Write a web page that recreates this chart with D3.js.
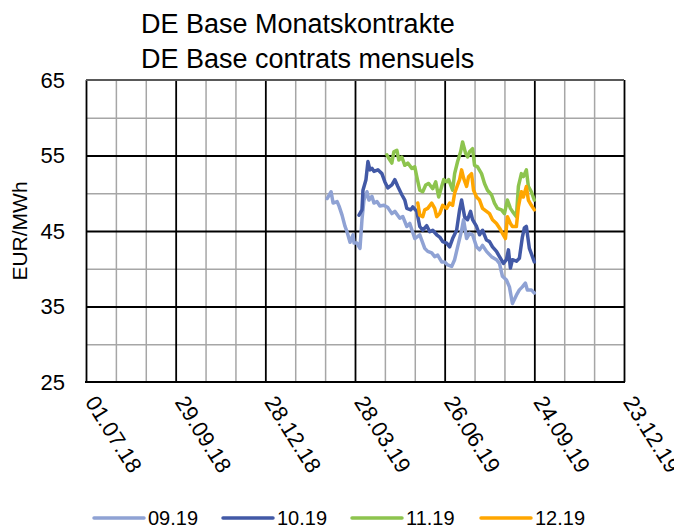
<!DOCTYPE html>
<html>
<head>
<meta charset="utf-8">
<script src="https://cdn.jsdelivr.net/npm/d3@7"></script>
<style>
  body { margin: 0; background: #fff; }
  text { font-family: "Liberation Sans", Arial, sans-serif; fill: #000; }
</style>
</head>
<body>
<div id="chart"></div>
<script>
var titleLines = ["DE Base Monatskontrakte", "DE Base contrats mensuels"];
var yLabel = "EUR/MWh";
var seriesNames = ["09.19", "10.19", "11.19", "12.19"];
var seriesColors = ["#8fa2d4", "#4259a6", "#8dc44e", "#ffa600"];
var yTicks = [25, 35, 45, 55, 65];
var xTicks = ["2018-07-01", "2018-09-29", "2018-12-28", "2019-03-28", "2019-06-26", "2019-09-24", "2019-12-23"];

var s0919 = [
  ["2019-02-28", 49.3], ["2019-03-04", 50.2], ["2019-03-06", 48.7], ["2019-03-10", 48.9],
  ["2019-03-12", 48.3], ["2019-03-15", 47.1], ["2019-03-18", 45.6], ["2019-03-20", 44.9],
  ["2019-03-23", 43.5], ["2019-03-26", 44.5], ["2019-03-27", 43.4], ["2019-03-30", 43.4],
  ["2019-04-02", 42.7], ["2019-04-04", 46.5], ["2019-04-06", 49.1], ["2019-04-09", 50.2],
  ["2019-04-11", 49.1], ["2019-04-14", 49.6], ["2019-04-16", 48.7], ["2019-04-19", 48.9],
  ["2019-04-22", 48.3], ["2019-04-26", 48.4], ["2019-04-30", 48.1], ["2019-05-04", 47.3],
  ["2019-05-07", 47.6], ["2019-05-12", 46.7], ["2019-05-15", 46.9], ["2019-05-19", 45.6],
  ["2019-05-22", 46.0], ["2019-05-27", 44.0], ["2019-06-01", 44.5], ["2019-06-06", 42.7],
  ["2019-06-09", 42.3], ["2019-06-13", 42.1], ["2019-06-16", 41.6], ["2019-06-19", 41.8],
  ["2019-06-23", 40.9], ["2019-06-26", 40.9], ["2019-06-29", 40.5], ["2019-07-03", 40.3],
  ["2019-07-06", 41.2], ["2019-07-09", 42.9], ["2019-07-13", 45.1], ["2019-07-15", 46.5],
  ["2019-07-18", 44.0], ["2019-07-21", 44.7], ["2019-07-24", 44.5], ["2019-07-28", 42.9],
  ["2019-07-31", 42.5], ["2019-08-03", 43.1], ["2019-08-07", 42.3], ["2019-08-12", 41.6],
  ["2019-08-17", 41.2], ["2019-08-20", 40.7], ["2019-08-23", 39.0], ["2019-08-27", 38.5],
  ["2019-08-30", 37.6], ["2019-09-02", 35.4], ["2019-09-06", 36.5], ["2019-09-09", 37.2],
  ["2019-09-12", 37.6], ["2019-09-15", 38.1], ["2019-09-17", 37.2], ["2019-09-21", 37.2],
  ["2019-09-24", 36.8]
];

var s1019 = [
  ["2019-04-01", 47.1], ["2019-04-04", 47.8], ["2019-04-05", 50.4], ["2019-04-08", 51.8],
  ["2019-04-10", 54.2], ["2019-04-12", 53.1], ["2019-04-14", 53.3], ["2019-04-16", 52.9],
  ["2019-04-20", 53.1], ["2019-04-24", 52.6], ["2019-04-27", 51.5], ["2019-04-30", 50.7],
  ["2019-05-04", 51.1], ["2019-05-07", 51.8], ["2019-05-10", 50.9], ["2019-05-14", 49.8],
  ["2019-05-17", 49.1], ["2019-05-19", 48.0], ["2019-05-23", 47.8], ["2019-05-25", 48.2],
  ["2019-05-29", 47.6], ["2019-06-01", 45.6], ["2019-06-04", 45.1], ["2019-06-08", 45.7],
  ["2019-06-11", 44.9], ["2019-06-14", 45.1], ["2019-06-18", 44.5], ["2019-06-21", 44.2],
  ["2019-06-24", 43.6], ["2019-06-28", 43.4], ["2019-07-01", 42.9], ["2019-07-04", 44.0],
  ["2019-07-08", 45.1], ["2019-07-11", 47.8], ["2019-07-13", 49.1], ["2019-07-16", 46.9],
  ["2019-07-19", 46.5], ["2019-07-22", 47.6], ["2019-07-24", 46.5], ["2019-07-28", 45.6],
  ["2019-07-31", 44.5], ["2019-08-03", 45.1], ["2019-08-07", 43.8], ["2019-08-10", 43.6],
  ["2019-08-13", 42.9], ["2019-08-17", 42.3], ["2019-08-20", 41.6], ["2019-08-24", 40.7],
  ["2019-08-27", 41.2], ["2019-08-29", 42.5], ["2019-08-31", 40.1], ["2019-09-02", 41.2],
  ["2019-09-06", 41.0], ["2019-09-09", 41.4], ["2019-09-12", 44.2], ["2019-09-14", 45.4],
  ["2019-09-16", 45.6], ["2019-09-19", 42.7], ["2019-09-21", 42.0], ["2019-09-24", 40.9]
];

var s1119 = [
  ["2019-04-29", 55.1], ["2019-05-01", 54.6], ["2019-05-04", 54.0], ["2019-05-06", 55.5],
  ["2019-05-09", 55.7], ["2019-05-11", 54.4], ["2019-05-14", 54.8], ["2019-05-17", 53.7],
  ["2019-05-20", 54.0], ["2019-05-24", 53.3], ["2019-05-27", 53.5], ["2019-05-29", 52.2],
  ["2019-06-01", 50.4], ["2019-06-04", 50.2], ["2019-06-07", 51.1], ["2019-06-10", 51.3],
  ["2019-06-14", 50.6], ["2019-06-17", 51.5], ["2019-06-20", 49.5], ["2019-06-23", 50.9],
  ["2019-06-25", 51.8], ["2019-06-28", 51.5], ["2019-06-30", 51.8], ["2019-07-04", 50.4],
  ["2019-07-06", 52.6], ["2019-07-09", 54.2], ["2019-07-12", 55.5], ["2019-07-14", 56.8],
  ["2019-07-17", 55.3], ["2019-07-19", 54.8], ["2019-07-21", 55.5], ["2019-07-24", 55.9],
  ["2019-07-26", 53.7], ["2019-07-29", 53.5], ["2019-08-02", 52.6], ["2019-08-05", 51.3],
  ["2019-08-08", 50.4], ["2019-08-12", 49.8], ["2019-08-15", 48.7], ["2019-08-18", 48.0],
  ["2019-08-22", 47.8], ["2019-08-25", 47.3], ["2019-08-28", 49.1], ["2019-08-31", 48.0],
  ["2019-09-02", 47.6], ["2019-09-06", 46.9], ["2019-09-08", 50.9], ["2019-09-11", 52.6],
  ["2019-09-13", 52.2], ["2019-09-16", 53.1], ["2019-09-18", 50.9], ["2019-09-21", 50.2],
  ["2019-09-24", 49.1]
];

var s1219 = [
  ["2019-05-30", 48.7], ["2019-06-01", 47.1], ["2019-06-04", 46.9], ["2019-06-06", 47.8],
  ["2019-06-09", 48.0], ["2019-06-13", 48.7], ["2019-06-16", 48.0], ["2019-06-18", 46.9],
  ["2019-06-21", 47.3], ["2019-06-24", 48.4], ["2019-06-28", 48.0], ["2019-07-01", 48.7],
  ["2019-07-04", 48.4], ["2019-07-06", 50.0], ["2019-07-09", 51.1], ["2019-07-11", 51.8],
  ["2019-07-13", 53.1], ["2019-07-15", 52.0], ["2019-07-18", 50.9], ["2019-07-20", 52.2],
  ["2019-07-23", 52.6], ["2019-07-25", 50.4], ["2019-07-28", 49.5], ["2019-07-31", 49.1],
  ["2019-08-03", 48.0], ["2019-08-07", 47.6], ["2019-08-10", 47.3], ["2019-08-13", 46.5],
  ["2019-08-17", 46.0], ["2019-08-20", 45.4], ["2019-08-23", 44.7], ["2019-08-26", 44.0],
  ["2019-08-28", 46.9], ["2019-08-31", 46.0], ["2019-09-02", 45.6], ["2019-09-06", 45.6],
  ["2019-09-08", 48.2], ["2019-09-11", 50.2], ["2019-09-13", 49.5], ["2019-09-16", 50.9],
  ["2019-09-18", 49.1], ["2019-09-21", 48.4], ["2019-09-24", 47.8]
];

var width = 674;
var height = 529;
var plot = { left: 86, right: 624, top: 80, bottom: 382 };

var parseDate = d3.utcParse("%Y-%m-%d");
var fmt = d3.utcFormat("%d.%m.%y");

var series = [s0919, s1019, s1119, s1219].map(function (s, i) {
  return {
    name: seriesNames[i],
    color: seriesColors[i],
    values: s.map(function (d) { return { date: parseDate(d[0]), price: d[1] }; })
  };
});

var tickDates = xTicks.map(parseDate);

/* Scales */
var xScale = d3.scaleUtc()
  .domain([tickDates[0], tickDates[tickDates.length - 1]])
  .range([plot.left, plot.right]);

var yScale = d3.scaleLinear()
  .domain([25, 65])
  .range([plot.bottom, plot.top]);

var svg = d3.select("#chart").append("svg")
  .attr("width", width)
  .attr("height", height);

/* minor grid: every 30 days / every 5 units */
var minorX = d3.range(30, 540, 30)
  .filter(function (d) { return d % 90 !== 0; })
  .map(function (d) { return d3.utcDay.offset(tickDates[0], d); });
var minorY = [30, 40, 50, 60];

svg.append("g")
  .attr("class", "x grid minor")
  .attr("transform", `translate(0, ${plot.bottom})`)
  .call(d3.axisBottom(xScale).tickValues(minorX).tickSize(-(plot.bottom - plot.top)).tickFormat(""))
  .call(g => g.select(".domain").remove())
  .selectAll("line").attr("stroke", "#a6a6a6").attr("stroke-width", 1.5);

svg.append("g")
  .attr("class", "y grid minor")
  .attr("transform", `translate(${plot.left}, 0)`)
  .call(d3.axisLeft(yScale).tickValues(minorY).tickSize(-(plot.right - plot.left)).tickFormat(""))
  .call(g => g.select(".domain").remove())
  .selectAll("line").attr("stroke", "#a6a6a6").attr("stroke-width", 1.5);

/* major grid */
svg.append("g")
  .attr("class", "x grid major")
  .attr("transform", `translate(0, ${plot.bottom})`)
  .call(d3.axisBottom(xScale).tickValues(tickDates).tickSize(-(plot.bottom - plot.top)).tickFormat(""))
  .call(g => g.select(".domain").remove())
  .selectAll("line").attr("stroke", "#000").attr("stroke-width", 1.8);

svg.append("g")
  .attr("class", "y grid major")
  .attr("transform", `translate(${plot.left}, 0)`)
  .call(d3.axisLeft(yScale).tickValues([35, 45, 55]).tickSize(-(plot.right - plot.left)).tickFormat(""))
  .call(g => g.select(".domain").remove())
  .selectAll("line").attr("stroke", "#000").attr("stroke-width", 1.8);

// top line at 65 is grey-ish, bottom axis black
svg.append("line")
  .attr("x1", plot.left).attr("x2", plot.right)
  .attr("y1", yScale(65)).attr("y2", yScale(65))
  .attr("stroke", "#595959").attr("stroke-width", 1.8);
svg.append("line")
  .attr("x1", plot.left - 1).attr("x2", plot.right + 1)
  .attr("y1", yScale(25)).attr("y2", yScale(25))
  .attr("stroke", "#000").attr("stroke-width", 2);

/* lines */
var line = d3.line()
  .x(d => xScale(d.date))
  .y(d => yScale(d.price));

svg.append("g")
  .attr("class", "lines")
  .selectAll("path")
  .data(series).enter()
  .append("path")
  .attr("d", d => line(d.values))
  .attr("fill", "none")
  .attr("stroke", d => d.color)
  .attr("stroke-width", 3.5)
  .attr("stroke-linejoin", "round")
  .attr("stroke-linecap", "round");

/* axes labels */
var yAxis = svg.append("g")
  .attr("class", "y axis")
  .attr("transform", `translate(${plot.left}, 0)`)
  .call(d3.axisLeft(yScale).tickValues(yTicks).tickSize(0).tickPadding(21));
yAxis.select(".domain").remove();
yAxis.selectAll("text")
  .style("font-size", "22px")
  .style("font-family", "'Liberation Sans', Arial, sans-serif");

var xAxis = svg.append("g")
  .attr("class", "x axis")
  .attr("transform", `translate(0, ${plot.bottom})`)
  .call(d3.axisBottom(xScale).tickValues(tickDates).tickSize(0).tickFormat(fmt));
xAxis.select(".domain").remove();
xAxis.selectAll("text")
  .attr("x", 0).attr("y", 0).attr("dy", null)
  .attr("text-anchor", "start")
  .attr("transform", "translate(-2, 20) rotate(58)")
  .style("font-size", "22px")
  .style("font-family", "'Liberation Sans', Arial, sans-serif");

svg.append("text")
  .attr("transform", `translate(27, ${(plot.top + plot.bottom) / 2}) rotate(-90)`)
  .attr("text-anchor", "middle")
  .style("font-size", "21px")
  .text(yLabel);

/* title */
svg.append("g")
  .selectAll("text")
  .data(titleLines).enter()
  .append("text")
  .attr("x", 141)
  .attr("y", (d, i) => 33 + i * 35)
  .style("font-size", "27px")
  .text(d => d);

/* legend */
var legendX = [94, 223, 352, 481];
var legend = svg.append("g").attr("class", "legend")
  .selectAll("g")
  .data(series).enter()
  .append("g")
  .attr("transform", (d, i) => `translate(${legendX[i]}, 518)`);
legend.append("line")
  .attr("x1", 0).attr("x2", 50)
  .attr("stroke", d => d.color)
  .attr("stroke-width", 3.5)
  .attr("stroke-linecap", "round");
legend.append("text")
  .attr("x", 54)
  .attr("y", 7)
  .style("font-size", "20px")
  .text(d => d.name);
</script>
</body>
</html>
